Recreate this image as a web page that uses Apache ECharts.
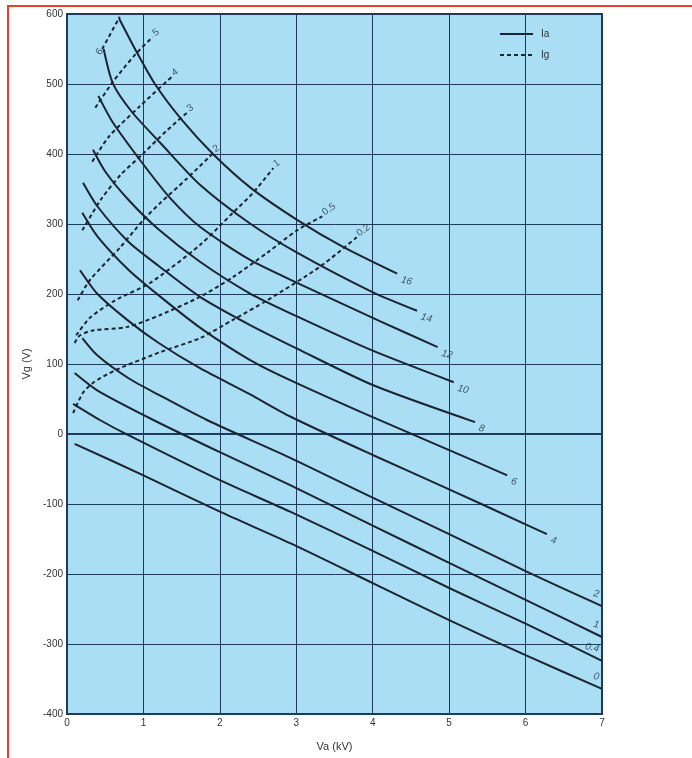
<!DOCTYPE html>
<html>
<head>
<meta charset="utf-8">
<script src="https://cdn.jsdelivr.net/npm/echarts@6/dist/echarts.min.js"></script>
<style>
  html, body { margin: 0; padding: 0; background: #fff; }
  #chart { width: 692px; height: 758px; }
</style>
</head>
<body>
<div id="chart"></div>
<script>
// anode current curves Ia (A), points are [Va (kV), Vg (V)]
var ia16 = [[0.68,594],[0.9,548],[1.15,500],[1.5,449],[1.91,400],[2.4,352],[3.01,306],[3.6,268],[4.32,229]];
var ia14 = [[0.48,550],[0.6,501],[0.85,460],[1.22,416],[1.74,356],[2.39,301],[3.01,259],[3.99,203],[4.58,176]];
var ia12 = [[0.41,483],[0.6,445],[1.0,385],[1.35,337],[1.74,296],[2.39,249],[3.01,216],[4.1,161],[4.85,124]];
var ia10 = [[0.34,406],[0.5,375],[0.8,335],[1.2,292],[1.74,246],[2.39,201],[3.01,168],[4.0,119],[5.06,74]];
var ia8  = [[0.21,359],[0.4,325],[0.8,275],[1.2,240],[1.74,196],[2.39,156],[3.01,122],[4.0,70],[5.34,17]];
var ia6  = [[0.2,316],[0.4,282],[0.8,235],[1.2,198],[1.74,152],[2.39,106],[2.92,77],[4.0,24],[5.0,-23],[5.76,-59]];
var ia4  = [[0.17,234],[0.4,200],[0.8,162],[1.2,130],[1.74,94],[2.39,57],[2.92,25],[4.0,-30],[5.0,-79],[6.0,-129],[6.28,-143]];
var ia2  = [[0.2,137],[0.4,112],[0.8,80],[1.2,56],[1.83,20],[2.92,-34],[4.0,-91],[5.0,-143],[6.0,-196],[7,-246]];
var ia1  = [[0.1,87],[0.4,62],[1.13,20],[2.0,-26],[2.92,-73],[4.0,-131],[5.0,-184],[6.0,-237],[7,-290]];
var ia04 = [[0.08,43],[0.43,20],[0.79,-1],[2.0,-66],[2.92,-111],[4.0,-167],[5.0,-220],[6.0,-271],[7,-324]];
var ia0  = [[0.1,-14],[1.0,-59],[2.0,-111],[2.92,-156],[4.0,-213],[5.0,-266],[6.0,-316],[7,-364]];

// grid current curves Ig (A)
var ig6  = [[0.46,550],[0.69,596]];
var ig5  = [[0.37,466],[0.6,503],[0.9,543],[1.12,567]];
var ig4  = [[0.33,389],[0.55,425],[0.95,468],[1.37,510]];
var ig3  = [[0.2,291],[0.45,336],[0.7,370],[1.0,401],[1.3,433],[1.57,459]];
var ig2  = [[0.14,191],[0.3,220],[0.7,267],[1.0,306],[1.22,330],[1.57,365],[1.91,401]];
var ig1  = [[0.12,141],[0.3,166],[0.63,191],[1.09,216],[1.74,270],[2.17,316],[2.43,344],[2.7,380]];
var ig05 = [[0.1,130],[0.17,141],[0.34,148],[0.79,153],[1.22,170],[1.74,196],[2.17,224],[2.62,259],[3.01,291],[3.34,311]];
var ig02 = [[0.08,30],[0.21,59],[0.34,73],[0.63,91],[1.22,117],[1.74,137],[2.17,163],[2.62,191],[3.31,239],[3.79,281]];

var iaCurves = [['16',ia16],['14',ia14],['12',ia12],['10',ia10],['8',ia8],['6',ia6],['4',ia4],['2',ia2],['1',ia1],['0.4',ia04],['0',ia0]];
var igCurves = [['6',ig6],['5',ig5],['4',ig4],['3',ig3],['2',ig2],['1',ig1],['0.5',ig05],['0.2',ig02]];

var xTicks = [0,1,2,3,4,5,6,7];
var yTicks = [-400,-300,-200,-100,0,100,200,300,400,500,600];

var ink = '#1b2430';
var gridInk = '#1f3a5c';
var font = 'Liberation Sans';

var series = [];
var labelPts = [];

iaCurves.forEach(function (c) {
  series.push({
    name: 'Ia', type: 'line', data: c[1], smooth: 0.25, symbol: 'none',
    itemStyle: { color: ink },
    lineStyle: { color: ink, width: 2 }, z: 3
  });
  var last = c[1][c[1].length - 1];
  var atEdge = last[0] >= 6.99;
  labelPts.push({
    value: [last[0], last[1], c[0]],
    label: atEdge
      ? { position: 'left', offset: [0, -12], rotate: -12 }
      : { position: 'right', offset: [0, 6], rotate: -15 }
  });
});

igCurves.forEach(function (c) {
  series.push({
    name: 'Ig', type: 'line', data: c[1], smooth: 0.25, symbol: 'none',
    itemStyle: { color: ink },
    lineStyle: { color: ink, width: 2, type: [4, 3] }, z: 2
  });
  var first = c[1][0];
  var last = c[1][c[1].length - 1];
  labelPts.push({
    value: c[0] === '6' ? [first[0], first[1], c[0]] : [last[0], last[1], c[0]],
    label: c[0] === '6'
      ? { position: 'left', offset: [2, 4], rotate: 60, fontStyle: 'normal' }
      : { position: 'right', offset: [-2, -5], rotate: 35, fontStyle: 'normal' }
  });
});

series.push({
  name: 'labels', type: 'scatter', data: labelPts, symbolSize: 1,
  itemStyle: { color: 'rgba(0,0,0,0)' }, silent: true, z: 4,
  label: {
    show: true, formatter: function (p) { return p.value[2]; },
    color: '#243240', fontSize: 10, fontStyle: 'italic', fontFamily: font
  }
});

var chart = echarts.init(document.getElementById('chart'));
chart.setOption({
  backgroundColor: '#ffffff',
  animation: false,
  grid: {
    left: 67, right: 90, top: 14, bottom: 44,
    show: true, backgroundColor: '#a9def5', borderColor: gridInk, borderWidth: 2
  },
  legend: {
    data: ['Ia', 'Ig'], orient: 'vertical', left: 494, top: 24,
    itemWidth: 33, itemHeight: 10, itemGap: 11,
    itemStyle: { opacity: 0 },
    textStyle: { fontSize: 10, color: '#333', fontFamily: font, padding: [0, 0, 0, 3] }
  },
  xAxis: {
    type: 'value', min: 0, max: 7, interval: 1,
    name: 'Va (kV)', nameLocation: 'middle', nameGap: 27,
    nameTextStyle: { fontSize: 11, color: '#333', fontFamily: font },
    axisLine: { lineStyle: { color: gridInk, width: 2 } },
    axisTick: { show: false },
    axisLabel: { margin: 4, fontSize: 10, color: '#333', fontFamily: font,
      formatter: function (v) { return xTicks.indexOf(v) >= 0 ? String(v) : ''; } },
    splitLine: { lineStyle: { color: gridInk, width: 1 } }
  },
  yAxis: {
    type: 'value', min: -400, max: 600, interval: 100,
    name: 'Vg (V)', nameLocation: 'middle', nameGap: 24, nameRotate: 90,
    nameTextStyle: { fontSize: 11, color: '#333', fontFamily: font },
    axisLine: { show: true, lineStyle: { color: gridInk, width: 2 } },
    axisTick: { show: false },
    axisLabel: { margin: 4, fontSize: 10, color: '#333', fontFamily: font,
      formatter: function (v) { return yTicks.indexOf(v) >= 0 ? String(v) : ''; } },
    splitLine: { lineStyle: { color: gridInk, width: 1 } }
  },
  graphic: [{
    type: 'rect', shape: { x: 8, y: 6, width: 720, height: 780 },
    style: { fill: 'none', stroke: '#e2412f', lineWidth: 2 }, silent: true
  }],
  series: series
});
</script>
</body>
</html>
